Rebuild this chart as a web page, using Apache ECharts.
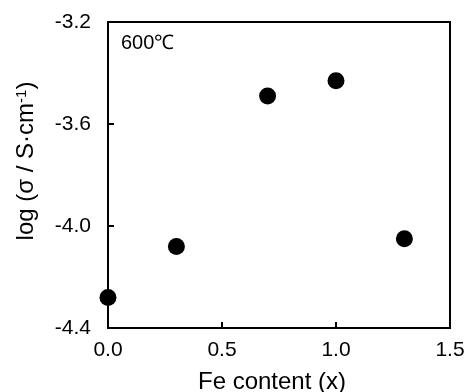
<!DOCTYPE html>
<html>
<head>
<meta charset="utf-8">
<script src="https://cdn.jsdelivr.net/npm/echarts@6/dist/echarts.min.js"></script>
<style>
  html, body { margin: 0; padding: 0; background: #fff; }
  #chart { width: 465px; height: 392px; }
</style>
</head>
<body>
<div id="chart"></div>
<script>
// Fe content (x) and log conductivity at 600 C
const feContent = [0.0, 0.3, 0.7, 1.0, 1.3];
const logSigma = [-4.28, -4.08, -3.49, -3.43, -4.05];

const xTicks = { min: 0, max: 1.5, interval: 0.5 };
const yTicks = { min: -4.4, max: -3.2, interval: 0.4 };

const font = '"Liberation Sans", Arial, Helvetica, sans-serif';

const chart = echarts.init(document.getElementById('chart'));

const option = {
  backgroundColor: '#fff',
  animation: false,
  textStyle: { fontFamily: font, color: '#000' },

  // label in the top-left corner of the plot
  title: {
    text: '600℃',
    left: 121,
    top: 33,
    padding: 0,
    textStyle: { fontFamily: font, fontSize: 20, fontWeight: 'normal', color: '#000' }
  },

  // keep the plot box fixed, don't let v6 shrink it to fit the labels
  grid: {
    left: 108,
    right: 15,
    top: 22,
    bottom: 64,
    outerBoundsMode: 'none',
    show: true,
    borderColor: '#000',
    borderWidth: 2,
    backgroundColor: 'transparent'
  },

  xAxis: {
    type: 'value',
    min: xTicks.min,
    max: xTicks.max,
    interval: xTicks.interval,
    name: 'Fe content (x)',
    nameLocation: 'middle',
    nameGap: 42,
    nameTextStyle: { fontFamily: font, fontSize: 24, color: '#000', padding: [0, 14, 0, 0] },
    axisLine: { show: true, lineStyle: { color: '#000', width: 2 } },
    axisTick: { show: true, inside: true, length: 6, lineStyle: { color: '#000', width: 2 } },
    axisLabel: {
      margin: 12,
      fontSize: 21,
      fontFamily: font,
      color: '#000',
      formatter: v => v.toFixed(1)
    },
    splitLine: { show: false }
  },

  yAxis: {
    type: 'value',
    min: yTicks.min,
    max: yTicks.max,
    interval: yTicks.interval,
    name: 'log (σ / S·cm{sup|-1})',
    nameLocation: 'middle',
    nameRotate: 90,
    nameGap: 70,
    nameTextStyle: {
      fontFamily: font,
      fontSize: 24,
      color: '#000',
      padding: [0, 0, 0, 28],
      rich: {
        sup: { fontFamily: font, fontSize: 15, color: '#000', verticalAlign: 'top' }
      }
    },
    axisLine: { show: true, lineStyle: { color: '#000', width: 2 } },
    axisTick: { show: true, inside: true, length: 6, lineStyle: { color: '#000', width: 2 } },
    axisLabel: {
      margin: 17,
      fontSize: 21,
      fontFamily: font,
      color: '#000',
      formatter: v => v.toFixed(1)
    },
    splitLine: { show: false }
  },

  series: [
    {
      type: 'scatter',
      data: feContent.map((x, i) => [x, logSigma[i]]),
      symbol: 'circle',
      symbolSize: 17,
      itemStyle: { color: '#000', opacity: 1 },
      clip: false
    }
  ]
};

chart.setOption(option);
</script>
</body>
</html>
